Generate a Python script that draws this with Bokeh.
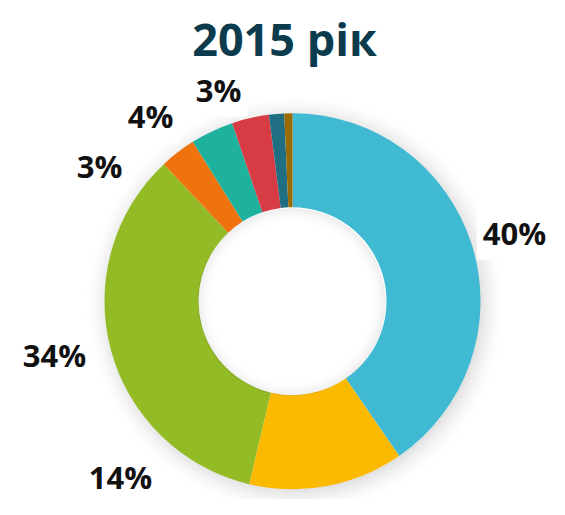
import math
from bokeh.plotting import figure
from bokeh.models import Range1d, Label
from bokeh.embed import file_html
from bokeh.resources import INLINE

# ---- data ----
categories = ["A", "B", "C", "D", "E", "F", "G", "H"]
shares = [40.4, 13.3, 34.3, 3.1, 3.7, 3.2, 1.3, 0.7]
labels = ["40%", "14%", "34%", "3%", "4%", "3%", "", ""]
colors = ["#40B9D3", "#FBBA00", "#93BB26", "#EE730F", "#1EB29E", "#D73B44", "#1F6E82", "#9A6B00"]
title_text = "2015 рік"

# ---- layout ----
W, H = 549, 499
TOP = 515
CX, CY = 292, TOP - 300.7
R_OUT, R_IN = 188, 94
# label anchor positions (screen layout, x, y from top of page)
LABEL_XY = [(514, 232), (120, 476), (54, 354), (99, 165), (150, 115), (218, 89), None, None]
LABEL_BOX = [True, False, True, True, True, True, False, False]

p = figure(width=W, height=H, output_backend="svg", toolbar_location=None,
           x_range=Range1d(0, W), y_range=Range1d(TOP - H, TOP),
           min_border=0, outline_line_color=None)
p.axis.visible = False
p.grid.visible = False
p.background_fill_color = "white"
p.border_fill_color = "white"

# soft outer shadow
n = 14
for i in range(n):
    a = 0.12 * (1 - i / n) ** 2
    p.annulus(x=CX + 3, y=CY - 3, inner_radius=R_OUT - 4 + i * 2, outer_radius=R_OUT - 4 + (i + 1) * 2,
              fill_color="black", fill_alpha=a, line_color=None)

# wedges
total = sum(shares)
cum = 0.0
starts, ends = [], []
for s in shares:
    starts.append(math.pi / 2 - 2 * math.pi * cum / total)
    cum += s
    ends.append(math.pi / 2 - 2 * math.pi * cum / total)

p.annular_wedge(x=CX, y=CY, inner_radius=R_IN, outer_radius=R_OUT,
                start_angle=starts, end_angle=ends, direction="clock",
                fill_color=colors, line_color=None)

# inner hole shadow
m = 10
for i in range(m):
    a = 0.07 * (1 - i / m) ** 2
    p.annulus(x=CX - 1, y=CY - 1, inner_radius=R_IN - (i + 1) * 1.6, outer_radius=R_IN - i * 1.6,
              fill_color="black", fill_alpha=a, line_color=None)

# percentage labels
for txt, xy, box in zip(labels, LABEL_XY, LABEL_BOX):
    if not txt or xy is None:
        continue
    kw = dict(background_fill_color="white", padding=6) if box else {}
    p.add_layout(Label(x=xy[0], y=TOP - xy[1], text=txt, text_align="center", text_baseline="middle",
                       text_font="Open Sans", text_font_size="31px", text_font_style="bold",
                       text_color="#111111", **kw))

# title
p.add_layout(Label(x=284, y=TOP - 38, text=title_text, text_align="center", text_baseline="middle",
                   text_font="Open Sans", text_font_size="45px", text_font_style="bold",
                   text_color="#0B3B4D"))

open("out.html", "w").write(file_html(p, INLINE))
